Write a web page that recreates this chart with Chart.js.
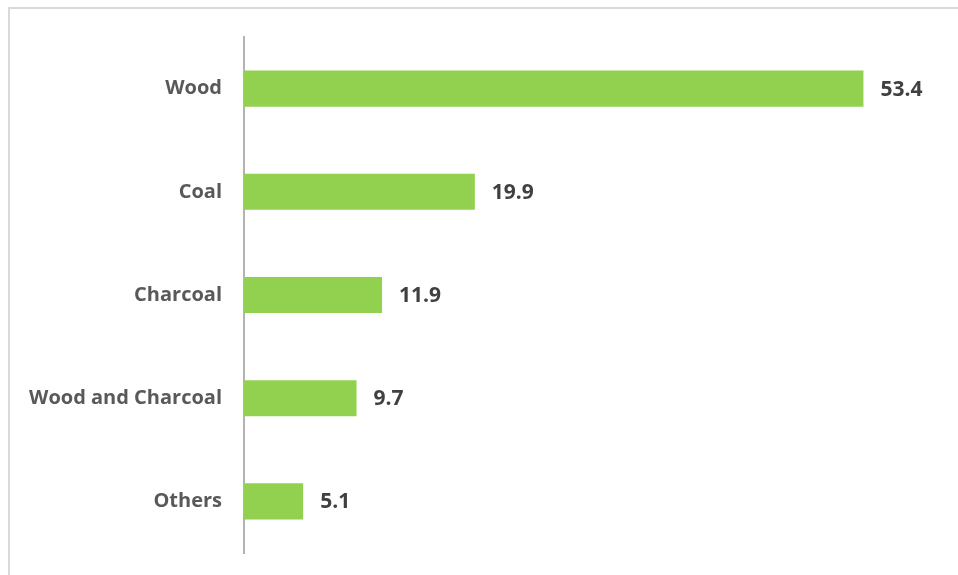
<!DOCTYPE html>
<html>
<head>
<meta charset="utf-8">
<script src="https://cdn.jsdelivr.net/npm/chart.js@4"></script>
<style>
  html, body { margin: 0; padding: 0; background: #fff; }
  #wrap { position: relative; width: 958px; height: 575px; overflow: hidden; }
  #frame {
    position: absolute; left: 8px; top: 7px; width: 980px; height: 600px;
    border-left: 2px solid #d9d9d9; border-top: 2px solid #d9d9d9;
  }
  canvas { position: absolute; left: 0; top: 0; }
</style>
</head>
<body>
<div id="wrap">
  <div id="frame"></div>
  <canvas id="fuelChart" width="958" height="575"></canvas>
</div>
<script>
// 연료 종류별 비율 (%)
const categories = ["Wood", "Coal", "Charcoal", "Wood and Charcoal", "Others"];
const shares = [53.4, 19.9, 11.9, 9.7, 5.1];
const valueLabels = ["53.4", "19.9", "11.9", "9.7", "5.1"];

// 막대 끝에 값 표시
const valueLabelPlugin = {
  id: "valueLabel",
  afterDatasetsDraw(chart) {
    const ctx = chart.ctx;
    const meta = chart.getDatasetMeta(0);
    ctx.save();
    ctx.font = "bold 21px 'Open Sans'";
    ctx.fillStyle = "#404040";
    ctx.textAlign = "left";
    ctx.textBaseline = "middle";
    meta.data.forEach((bar, i) => {
      ctx.fillText(valueLabels[i], bar.x + 17, bar.y + 1);
    });
    ctx.restore();
  },
};

new Chart(document.getElementById("fuelChart"), {
  type: "bar",
  data: {
    labels: categories,
    datasets: [
      {
        data: shares,
        backgroundColor: "#92d050",
        borderWidth: 0,
        barPercentage: 0.35,
        categoryPercentage: 1,
      },
    ],
  },
  options: {
    indexAxis: "y",
    responsive: false, // 크기 고정
    animation: false,
    layout: {
      padding: { top: 37, bottom: 22, left: 0, right: 18 },
    },
    scales: {
      x: {
        display: false,
        min: 0,
        max: 60,
      },
      y: {
        grid: { display: false, drawTicks: false },
        border: { display: true, color: "#b3b3b3", width: 2 },
        ticks: {
          padding: 22,
          color: "#595959",
          font: { family: "'Open Sans'", size: 20, weight: "bold" },
        },
        afterFit(scale) {
          scale.width = 244; // 축 위치 고정
          scale.paddingTop = 0;
          scale.paddingBottom = 0;
        },
      },
    },
    plugins: {
      legend: { display: false },
      tooltip: { enabled: false },
    },
  },
  plugins: [valueLabelPlugin],
});
</script>
</body>
</html>
